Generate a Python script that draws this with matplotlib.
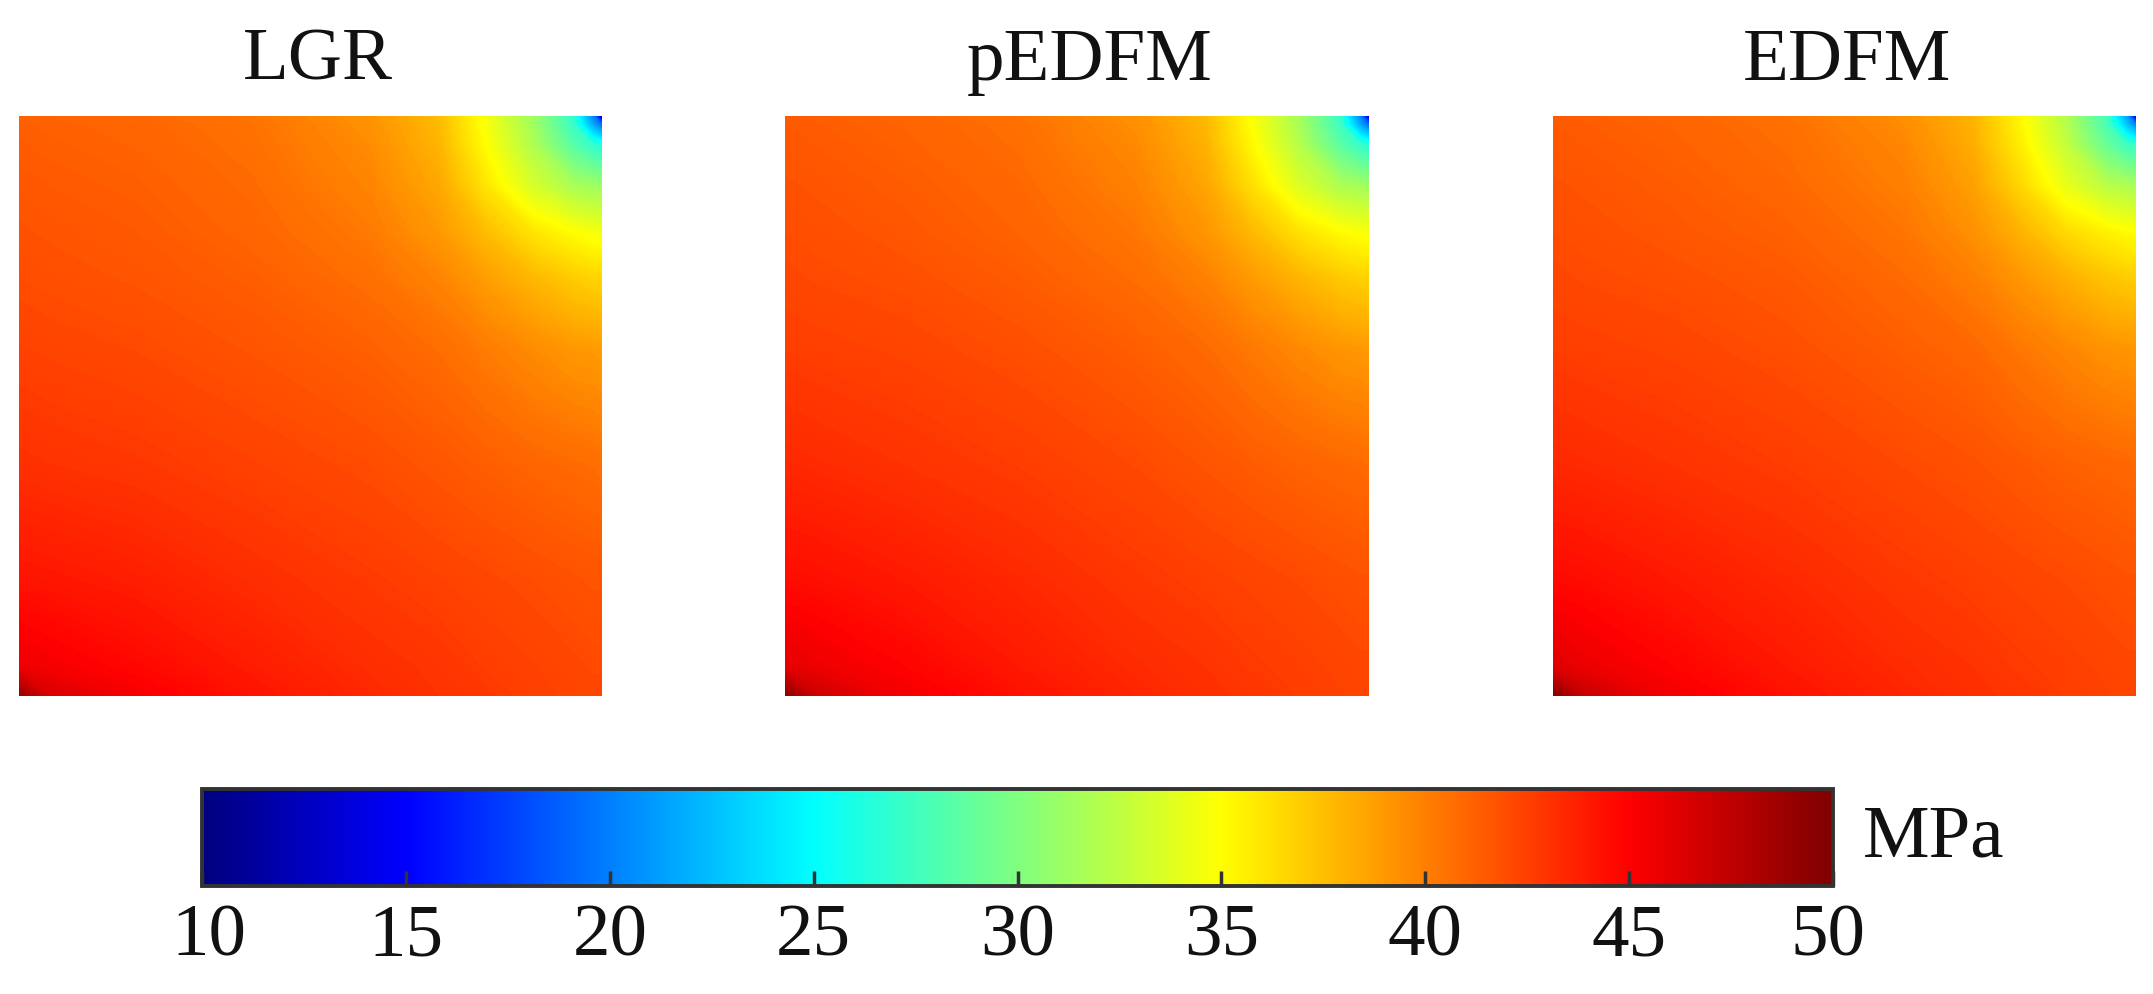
import numpy as np
import matplotlib
matplotlib.use('Agg')
import matplotlib.pyplot as plt
from matplotlib.cm import ScalarMappable
from matplotlib.colors import LinearSegmentedColormap, Normalize
from matplotlib.transforms import ScaledTranslation

plt.rcParams['font.family'] = ['Liberation Serif', 'DejaVu Serif']

W, H = 2153, 995

titles = ['LGR', 'pEDFM', 'EDFM']
tick_values = [10, 15, 20, 25, 30, 35, 40, 45, 50]
unit = 'MPa'

# sample positions as a fraction of the panel, y counted from the top
x_samples = [0, .05, .2, .4, .6, .72, .8, .88, .95, .985, 1]
y_samples = [0, .015, .05, .12, .2, .28, .4, .6, .8, .95, 1]

# pressure (MPa), rows top to bottom
lgr = [
    [41.2, 41.1, 40.9, 40.4, 39.2, 37.6, 34.6, 31.3, 27.0, 20.0, 12.0],
    [41.3, 41.2, 41.0, 40.5, 39.3, 37.7, 34.7, 31.4, 27.2, 21.5, 19.0],
    [41.4, 41.3, 41.1, 40.6, 39.5, 37.9, 35.0, 31.9, 28.4, 26.8, 26.5],
    [41.6, 41.5, 41.3, 40.8, 39.8, 38.4, 36.0, 33.4, 31.6, 31.2, 31.0],
    [41.8, 41.7, 41.5, 41.0, 40.2, 39.0, 37.6, 36.0, 35.0, 34.6, 34.5],
    [42.0, 41.9, 41.7, 41.3, 40.6, 39.8, 38.8, 37.8, 37.0, 36.7, 36.6],
    [42.4, 42.3, 42.1, 41.7, 41.2, 40.7, 40.1, 39.5, 39.0, 38.9, 38.8],
    [43.1, 43.0, 42.8, 42.4, 42.0, 41.6, 41.3, 41.0, 40.8, 40.7, 40.6],
    [44.2, 44.1, 43.8, 43.2, 42.7, 42.4, 42.2, 42.0, 41.8, 41.7, 41.7],
    [45.6, 45.3, 44.7, 43.9, 43.2, 42.9, 42.6, 42.4, 42.2, 42.1, 42.1],
    [49.0, 46.5, 45.3, 44.2, 43.4, 43.0, 42.8, 42.5, 42.3, 42.2, 42.2],
]
pedfm = [
    [41.4, 41.3, 41.0, 40.5, 39.3, 37.7, 34.8, 31.5, 27.2, 20.0, 12.0],
    [41.5, 41.4, 41.1, 40.6, 39.4, 37.8, 34.9, 31.6, 27.4, 21.5, 19.0],
    [41.6, 41.5, 41.2, 40.7, 39.6, 38.0, 35.2, 32.1, 28.6, 27.0, 26.7],
    [41.8, 41.7, 41.4, 40.9, 39.9, 38.5, 36.2, 33.6, 31.8, 31.4, 31.2],
    [42.0, 41.9, 41.6, 41.1, 40.3, 39.1, 37.7, 36.1, 35.1, 34.8, 34.7],
    [42.2, 42.1, 41.9, 41.4, 40.7, 39.9, 38.9, 37.9, 37.1, 36.8, 36.7],
    [42.6, 42.5, 42.3, 41.9, 41.3, 40.8, 40.2, 39.6, 39.1, 39.0, 38.9],
    [43.4, 43.3, 43.0, 42.6, 42.1, 41.7, 41.4, 41.1, 40.9, 40.8, 40.7],
    [44.5, 44.4, 44.0, 43.4, 42.8, 42.5, 42.3, 42.1, 41.9, 41.8, 41.8],
    [46.0, 45.6, 44.9, 44.0, 43.3, 43.0, 42.7, 42.5, 42.3, 42.2, 42.2],
    [49.5, 47.0, 45.4, 44.3, 43.5, 43.1, 42.9, 42.6, 42.4, 42.3, 42.3],
]
edfm = [
    [41.4, 41.3, 41.0, 40.5, 39.4, 37.9, 35.3, 32.0, 27.6, 21.0, 13.0],
    [41.5, 41.4, 41.1, 40.6, 39.5, 38.0, 35.4, 32.1, 27.8, 22.5, 20.0],
    [41.6, 41.5, 41.2, 40.7, 39.7, 38.2, 35.7, 32.6, 29.0, 27.4, 27.1],
    [41.8, 41.7, 41.4, 40.9, 40.0, 38.7, 36.6, 34.1, 32.2, 31.8, 31.6],
    [42.0, 41.9, 41.6, 41.2, 40.4, 39.3, 38.0, 36.4, 35.5, 35.1, 35.0],
    [42.2, 42.1, 41.9, 41.5, 40.8, 40.0, 39.1, 38.1, 37.3, 37.0, 36.9],
    [42.6, 42.5, 42.3, 41.9, 41.3, 40.9, 40.3, 39.7, 39.2, 39.1, 39.0],
    [43.4, 43.3, 43.0, 42.6, 42.1, 41.8, 41.5, 41.2, 41.0, 40.9, 40.8],
    [44.6, 44.5, 44.0, 43.4, 42.8, 42.5, 42.3, 42.1, 41.9, 41.8, 41.8],
    [46.2, 45.7, 44.9, 44.0, 43.3, 43.0, 42.7, 42.5, 42.3, 42.2, 42.2],
    [49.8, 47.2, 45.4, 44.3, 43.5, 43.1, 42.9, 42.6, 42.4, 42.3, 42.3],
]
fields = [lgr, pedfm, edfm]

panel_left = [19, 785, 1553]
panel_right = [602, 1369, 2136]
panel_top = 117
panel_bottom = 697
title_x = [318, 1090, 1847]

# MATLAB style jet, the matplotlib one has its knots slightly elsewhere
jet = LinearSegmentedColormap.from_list('matlab_jet', [
    (0, (0, 0, .5)), (.125, (0, 0, 1)), (.375, (0, 1, 1)),
    (.625, (1, 1, 0)), (.875, (1, 0, 0)), (1, (.5, 0, 0))], N=512)


def px_axes(left, top, right, bottom):
    return fig.add_axes([left / W, 1 - bottom / H, (right - left) / W, (bottom - top) / H])


fig = plt.figure(figsize=(W / 100, H / 100), dpi=100)
norm = Normalize(10, 50)
levels = np.linspace(10, 50, 321)

for i in range(3):
    ax = px_axes(panel_left[i], panel_top, panel_right[i], panel_bottom)
    ax.contourf(x_samples, y_samples, np.array(fields[i]), levels=levels,
                cmap=jet, norm=norm, antialiased=False)
    ax.set_xlim(0, 1)
    ax.set_ylim(1, 0)
    ax.axis('off')
    fig.text(title_x[i] / W, 1 - 80 / H, titles[i], fontsize=54,
             ha='center', va='baseline', color='#111111')

# colour bar, ticks sit inside along the lower edge
cax = px_axes(202, 790, 1833, 887)
cb = fig.colorbar(ScalarMappable(norm=norm, cmap=jet), cax=cax, orientation='horizontal')
cb.set_ticks(tick_values)
cb.ax.tick_params(direction='in', length=11, width=2.5, color='#333333',
                  labelsize=54, pad=12, labelcolor='#111111')
cb.outline.set_edgecolor('#333333')
cb.outline.set_linewidth(2.8)

# end labels are pulled in a little towards the bar
end_labels = cb.ax.get_xticklabels()
end_labels[0].set_transform(end_labels[0].get_transform()
                            + ScaledTranslation(.07, 0, fig.dpi_scale_trans))
end_labels[-1].set_transform(end_labels[-1].get_transform()
                             + ScaledTranslation(-.055, 0, fig.dpi_scale_trans))

fig.text(1863 / W, 1 - 857 / H, unit, fontsize=54, ha='left', va='baseline', color='#111111')

fig.savefig('out.png', dpi=100)
